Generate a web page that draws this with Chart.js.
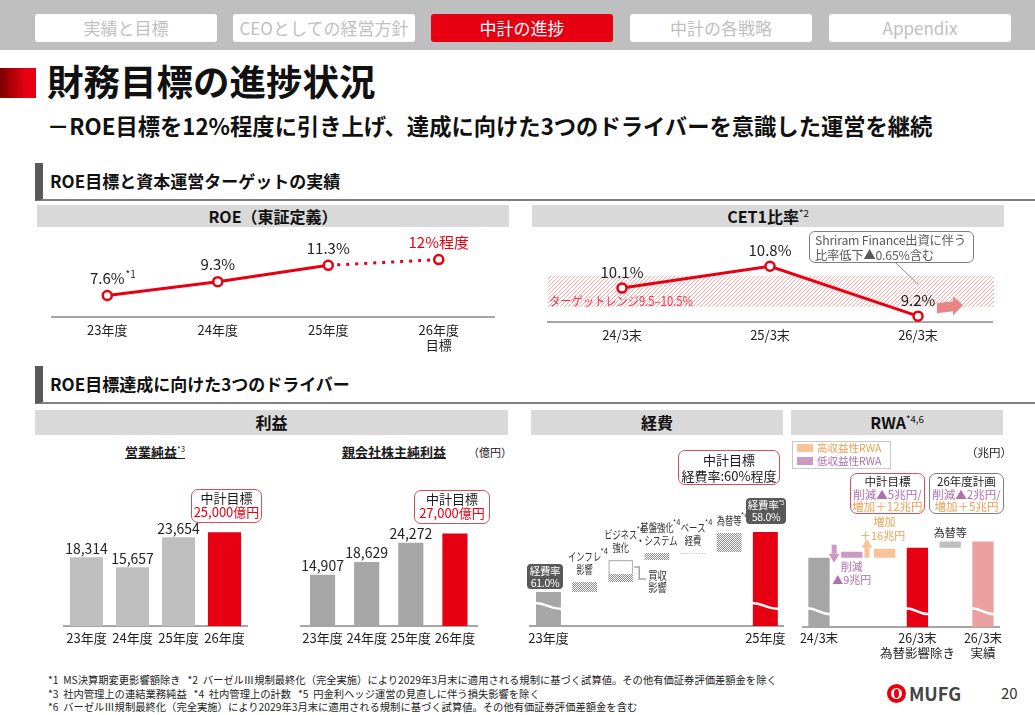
<!DOCTYPE html>
<html lang="ja">
<head>
<meta charset="utf-8">
<title>財務目標の進捗状況</title>
<script src="https://cdn.jsdelivr.net/npm/chart.js@4.4.1/dist/chart.umd.min.js"></script>
<style>
  body { margin: 0; }
  #page { position: relative; width: 1035px; height: 715px; overflow: hidden; background: #fff;
          font-family: "Noto Sans CJK JP", "Noto Sans", sans-serif; color: #1a1a1a; }
  #page > div, #page > canvas, #tabs > div { position: absolute; }
  #tabs { left: 0; top: 0; width: 1035px; height: 50px; background: #bfbfbf; }
  .tab { top: 14px; width: 182px; height: 28px; background: #fff; border-radius: 3px; color: #c0c0c0;
         font-size: 17px; line-height: 28px; text-align: center; }
  .tab.on { background: #e60012; color: #fff; }
  #mark { left: 0; top: 68px; width: 36px; height: 30px; background: linear-gradient(to right, #7a0000, #e60012 70%); }
  #title { left: 47px; top: 61px; font-size: 36.5px; line-height: 40px; font-weight: bold; color: #111; }
  #subtitle { left: 47px; top: 111px; font-size: 22.3px; line-height: 28px; font-weight: bold; color: #111; }
  .sec { left: 35px; width: 1000px; height: 38px; box-sizing: border-box; border-left: 8px solid #595959;
         border-bottom: 2px solid #808080; font-size: 17px; line-height: 36px; font-weight: bold; padding-left: 7px; color: #111; }
  .ph { background: #d9d9d9; font-weight: bold; font-size: 16px; text-align: center; color: #111; }
  sup { font-size: 60%; font-weight: normal; vertical-align: 0.6em; line-height: 0; }
  .sub { font-size: 13px; font-weight: bold; text-decoration: underline; line-height: 16px; white-space: nowrap; }
  .goal { box-sizing: border-box; border: 1.5px solid #d0505a; border-radius: 7px; background: #fff;
          font-size: 13px; line-height: 14px; text-align: center; padding-top: 1px; white-space: nowrap; }
  .red { color: #e60012; }
  .dark { background: #595959; color: #fff; border-radius: 4px; font-size: 10.5px; line-height: 12px; text-align: center;
          padding-top: 1px; box-sizing: border-box; white-space: nowrap; letter-spacing: -0.3px; }
  .note { box-sizing: border-box; border: 1px solid #7f7f7f; border-radius: 6px; background: #fff; color: #595959;
          font-size: 12.3px; line-height: 14.5px; padding: 1px 0 0 5px; white-space: nowrap; letter-spacing: -0.2px; }
  .rwabox { box-sizing: border-box; border: 1.5px solid #d0505a; border-radius: 7px; background: #fff;
            font-size: 11.5px; line-height: 12.6px; text-align: center; padding-top: 1px; white-space: nowrap; }
  .pur { color: #b06fb0; }
  .ora { color: #f0a050; }
  .foot { left: 48px; font-size: 10.3px; line-height: 13px; color: #222; white-space: nowrap; }
</style>
</head>
<body>
<div id="page">
  <div id="tabs">
    <div class="tab" style="left:35px">実績と目標</div>
    <div class="tab" style="left:233px">CEOとしての経営方針</div>
    <div class="tab on" style="left:431px">中計の進捗</div>
    <div class="tab" style="left:630px">中計の各戦略</div>
    <div class="tab" style="left:829px">Appendix</div>
  </div>
  <div id="mark"></div>
  <div id="title">財務目標の進捗状況</div>
  <div id="subtitle">－ROE目標を12%程度に引き上げ、達成に向けた3つのドライバーを意識した運営を継続</div>

  <div class="sec" style="top:163px">ROE目標と資本運営ターゲットの実績</div>
  <div class="ph" style="left:37px;top:205px;width:472px;height:22px;line-height:22px">ROE（東証定義）</div>
  <div class="ph" style="left:532px;top:205px;width:472px;height:22px;line-height:22px">CET1比率<sup>*2</sup></div>
  <canvas id="chartRoe" width="470" height="135" style="left:40px;top:228px"></canvas>
  <canvas id="chartCet1" width="470" height="135" style="left:535px;top:228px"></canvas>
  <div class="note" style="left:809px;top:231px;width:165px;height:32px">Shriram Finance出資に伴う<br>比率低下▲0.65%含む</div>

  <div class="sec" style="top:366px">ROE目標達成に向けた3つのドライバー</div>
  <div class="ph" style="left:35px;top:410px;width:473px;height:25px;line-height:25px">利益</div>
  <div class="ph" style="left:531px;top:410px;width:252px;height:25px;line-height:25px">経費</div>
  <div class="ph" style="left:791px;top:410px;width:212px;height:25px;line-height:25px">RWA<sup>*4,6</sup></div>

  <div class="sub" style="left:125px;top:444px">営業純益<sup>*3</sup></div>
  <div class="sub" style="left:342px;top:444px">親会社株主純利益</div>
  <div style="left:468px;top:445px;font-size:11px;line-height:14px">（億円）</div>
  <canvas id="chartOp" width="220" height="200" style="left:45px;top:455px"></canvas>
  <canvas id="chartNet" width="210" height="200" style="left:285px;top:455px"></canvas>
  <div class="goal" style="left:191px;top:489px;width:71px;height:34px">中計目標<br><span class="red" id="goalOp"></span></div>
  <div class="goal" style="left:414px;top:490px;width:76px;height:34px">中計目標<br><span class="red" id="goalNet"></span></div>

  <canvas id="chartExp" width="270" height="200" style="left:520px;top:455px"></canvas>
  <div class="goal" style="left:678px;top:450px;width:102px;height:35px;line-height:15.5px">中計目標<br>経費率:60%程度</div>
  <div class="dark" id="ratioStart" style="left:527px;top:564px;width:36px;height:25px"></div>
  <div class="dark" id="ratioEnd" style="left:746px;top:498px;width:40px;height:26px"></div>

  <div style="left:792px;top:441px;width:99px;height:28px;box-sizing:border-box;border:1px solid #c8c8c8;font-size:10.5px;line-height:12px">
    <span style="position:absolute;left:4px;top:2px;width:16px;height:8px;background:#f8c497"></span>
    <span class="ora" style="position:absolute;left:24px;top:0px">高収益性RWA</span>
    <span style="position:absolute;left:4px;top:15px;width:16px;height:8px;background:#cc99c4"></span>
    <span class="pur" style="position:absolute;left:24px;top:13px">低収益性RWA</span>
  </div>
  <div style="left:966px;top:445px;font-size:11.5px;line-height:14px">（兆円）</div>
  <div class="rwabox" style="left:850px;top:473px;width:75px;height:41px">中計目標<br><span class="pur">削減▲5兆円/</span><br><span class="ora">増加＋12兆円</span></div>
  <div class="rwabox" style="left:929px;top:473px;width:75px;height:41px;border-color:#7f7f7f">26年度計画<br><span class="pur">削減▲2兆円/</span><br><span class="ora">増加＋5兆円</span></div>
  <canvas id="chartRwa" width="225" height="215" style="left:790px;top:455px"></canvas>

  <div class="foot" style="top:673px">*1&nbsp; MS決算期変更影響額除き&nbsp;&nbsp; *2&nbsp; バーゼルⅢ規制最終化（完全実施）により2029年3月末に適用される規制に基づく試算値。その他有価証券評価差額金を除く</div>
  <div class="foot" style="top:687px">*3&nbsp; 社内管理上の連結業務純益&nbsp;&nbsp; *4&nbsp; 社内管理上の計数&nbsp;&nbsp; *5&nbsp; 円金利ヘッジ運営の見直しに伴う損失影響を除く</div>
  <div class="foot" style="top:700px">*6&nbsp; バーゼルⅢ規制最終化（完全実施）により2029年3月末に適用される規制に基づく試算値。その他有価証券評価差額金を含む</div>

  <div style="left:887px;top:684px;width:19px;height:19px;box-sizing:border-box;border:4px solid #e60012;border-radius:50%"></div>
  <div style="left:894px;top:689px;width:5px;height:9px;background:#e60012;border-radius:50%"></div>
  <div style="left:909px;top:681px;font-size:18px;line-height:24px;font-weight:bold;color:#444">MUFG</div>
  <div style="left:1001px;top:682px;font-size:15px;line-height:22px;color:#333">20</div>
</div>

<script>
// ROE (TSE definition)
const roeYears = ['23年度', '24年度', '25年度', ['26年度', '目標']];
const roeValues = [7.6, 9.3, 11.3, 12];
const roeTexts = ['7.6%', '9.3%', '11.3%', '12%程度'];
const roeNotes = ['*1', '', '', ''];

// CET1 ratio
const cetDates = ['24/3末', '25/3末', '26/3末'];
const cetValues = [10.1, 10.8, 9.2];
const cetTarget = [9.5, 10.5];

// profit (億円)
const profitYears = ['23年度', '24年度', '25年度', '26年度'];
const opProfit = [18314, 15657, 23654, 25000];
const netIncome = [14907, 18629, 24272, 27000];
const isTarget = [false, false, false, true];

// expense walk (schematic units, axis is broken)
const expenseTicks = ['23年度', '', '', '', '', '', '25年度'];
const expenseSteps = [null, ['インフレ', '影響'], ['ビジネス', '強化'], ['基盤強化', '・システム'], ['ベース', '経費'], ['為替等'], null];
const expenseBars = [[0, 34], [34, 44], [44, 52], [66, 73], [73, 73], [74, 93], [0, 94]];
const expenseAcq = [null, null, [52, 66], null, null, null, null];
const expenseRatio = [61.0, 58.0];

// RWA walk (schematic units, axis is broken)
const rwaTicks = ['24/3末', '', '', ['26/3末', '為替影響除き'], '', ['26/3末', '実績']];
const rwaBars = [[0, 69], [69, 75], [69, 78], [0, 79], [79, 85], [0, 85]];
const rwaChange = [-9, 16];

const FONT = '"Noto Sans CJK JP", "Noto Sans", sans-serif';
const RED = '#e60012';
Chart.defaults.font.family = FONT;
Chart.defaults.color = '#222';
Chart.defaults.animation = false;
Chart.defaults.plugins.legend.display = false;
Chart.defaults.plugins.tooltip.enabled = false;

document.getElementById('goalOp').textContent = opProfit[3].toLocaleString('en-US') + '億円';
document.getElementById('goalNet').textContent = netIncome[3].toLocaleString('en-US') + '億円';
document.getElementById('ratioStart').innerHTML = '経費率<br>' + expenseRatio[0].toFixed(1) + '%';
document.getElementById('ratioEnd').innerHTML = '経費率<sup>*5</sup><br>' + expenseRatio[1].toFixed(1) + '%';

function hatch(color, size) {
    const c = document.createElement('canvas');
    c.width = size; c.height = size;
    const g = c.getContext('2d');
    g.strokeStyle = color;
    g.lineWidth = 1;
    g.beginPath();
    g.moveTo(0, size); g.lineTo(size, 0);
    g.moveTo(-1, 1); g.lineTo(1, -1);
    g.moveTo(size - 1, size + 1); g.lineTo(size + 1, size - 1);
    g.stroke();
    return g.createPattern(c, 'repeat');
}

function dots() {
    const c = document.createElement('canvas');
    c.width = 2; c.height = 2;
    const g = c.getContext('2d');
    g.fillStyle = '#fff'; g.fillRect(0, 0, 2, 2);
    g.fillStyle = '#8c8c8c'; g.fillRect(0, 0, 1, 1); g.fillRect(1, 1, 1, 1);
    return g.createPattern(c, 'repeat');
}

// condensed text, like the narrow UI font of the slide
function narrow(c, t, x, y, size, sx) {
    c.save();
    c.translate(x, y);
    c.scale(sx, 1);
    c.font = size + 'px ' + FONT;
    c.fillText(t, 0, 0);
    const w = c.measureText(t).width * sx;
    c.restore();
    return w;
}

function xAxis(size, pad) {
    return {
        offset: true,
        grid: { display: false, drawTicks: false },
        border: { color: '#a6a6a6', width: 2 },
        ticks: { padding: pad, font: { size: size }, color: '#222', autoSkip: false, maxRotation: 0 }
    };
}

function pointLabels(texts, notes, colors, gap) {
    return {
        id: 'pointLabels',
        afterDatasetsDraw(chart) {
            const c = chart.ctx;
            c.save();
            c.textBaseline = 'middle';
            c.textAlign = 'left';
            chart.getDatasetMeta(0).data.forEach((p, i) => {
                c.font = '15px ' + FONT;
                c.fillStyle = colors[i];
                const w = c.measureText(texts[i]).width;
                c.fillText(texts[i], p.x - w / 2, p.y - gap);
                if (notes[i]) {
                    c.font = '10px ' + FONT;
                    c.fillText(notes[i], p.x + w / 2 + 1, p.y - gap - 4);
                }
            });
            c.restore();
        }
    };
}

function barLabels(texts) {
    return {
        id: 'barLabels',
        afterDatasetsDraw(chart) {
            const c = chart.ctx;
            c.save();
            c.font = '14px ' + FONT;
            c.fillStyle = '#222';
            c.textAlign = 'center';
            c.textBaseline = 'middle';
            chart.getDatasetMeta(0).data.forEach((b, i) => {
                if (texts[i]) c.fillText(texts[i], b.x, b.y - 9);
            });
            c.restore();
        }
    };
}

function breakMarks(bars, lift) {
    return {
        id: 'breakMarks',
        afterDatasetsDraw(chart) {
            const c = chart.ctx;
            const meta = chart.getDatasetMeta(0).data;
            c.save();
            c.strokeStyle = '#fff';
            c.lineWidth = 2.5;
            bars.forEach(i => {
                const b = meta[i];
                const l = b.x - b.width / 2 - 1, r = b.x + b.width / 2 + 1;
                const y0 = b.base - lift;
                c.beginPath();
                c.moveTo(l, y0 - 3);
                c.bezierCurveTo(l + (r - l) * 0.45, y0 - 3, l + (r - l) * 0.5, y0 + 3, r, y0 + 3);
                c.stroke();
            });
            c.restore();
        }
    };
}

function showRoe() {
    const ctx = document.getElementById('chartRoe').getContext('2d');
    new Chart(ctx, {
        type: 'line',
        data: {
            labels: roeYears,
            datasets: [
                {
                    data: roeValues,
                    borderColor: RED,
                    borderWidth: 3,
                    pointRadius: 4.5,
                    pointBorderWidth: 2.5,
                    pointBackgroundColor: '#fff',
                    pointBorderColor: RED,
                    segment: {
                        borderDash: c => isTarget[c.p1DataIndex] ? [3, 6] : undefined
                    }
                },
            ]
        },
        options: {
            responsive: false,
            layout: { padding: { left: 12, right: 16, top: 12, bottom: 5 } },
            scales: {
                x: xAxis(13, 5),
                y: { display: false, min: 5, max: 14.4 }
            }
        },
        plugins: [pointLabels(roeTexts, roeNotes, roeValues.map((v, i) => isTarget[i] ? RED : '#222'), 17)]
    });
}

function showCet1() {
    const ctx = document.getElementById('chartCet1').getContext('2d');
    const band = {
        id: 'band',
        beforeDatasetsDraw(chart) {
            const c = chart.ctx;
            const a = chart.chartArea;
            const y = chart.scales.y;
            const top = y.getPixelForValue(cetTarget[1]);
            const bottom = y.getPixelForValue(cetTarget[0]);
            c.save();
            c.fillStyle = hatch('#f2aaaa', 4);
            c.fillRect(a.left, top, a.right - a.left + 2, bottom - top);
            c.fillStyle = '#f0344c';
            c.textBaseline = 'middle';
            narrow(c, 'ターゲットレンジ' + cetTarget[0] + '–' + cetTarget[1] + '%', a.left + 1, bottom - 6, 12.5, 0.9);
            c.restore();
        },
        afterDatasetsDraw(chart) {
            const c = chart.ctx;
            const p = chart.getDatasetMeta(0).data[2];
            c.save();
            // leader line of the note box
            c.strokeStyle = '#8c8c8c';
            c.lineWidth = 1;
            c.beginPath();
            c.moveTo(p.x - 23, p.y - 54);
            c.lineTo(p.x, p.y - 32);
            c.stroke();
            // arrow after the last point
            c.fillStyle = '#e98484';
            c.beginPath();
            c.moveTo(p.x + 19, p.y - 13);
            c.lineTo(p.x + 35, p.y - 15);
            c.lineTo(p.x + 35, p.y - 20);
            c.lineTo(p.x + 45, p.y - 11);
            c.lineTo(p.x + 35, p.y - 1);
            c.lineTo(p.x + 35, p.y - 5);
            c.lineTo(p.x + 19, p.y - 3);
            c.closePath();
            c.fill();
            c.restore();
        }
    };
    new Chart(ctx, {
        type: 'line',
        data: {
            labels: cetDates,
            datasets: [
                {
                    data: cetValues,
                    borderColor: RED,
                    borderWidth: 3,
                    pointRadius: 4.5,
                    pointBorderWidth: 2.5,
                    pointBackgroundColor: '#fff',
                    pointBorderColor: RED,
                },
            ]
        },
        options: {
            responsive: false,
            layout: { padding: { left: 13, right: 13, top: 12, bottom: 15 } },
            scales: {
                x: xAxis(13, 5),
                y: { display: false, min: 9.0, max: 11.64 }
            }
        },
        plugins: [band, pointLabels(cetValues.map(v => v.toFixed(1) + '%'), ['', '', ''], ['#222', '#222', '#222'], 16)]
    });
}

function showProfit(id, values, gray, barPct, max, pad) {
    const ctx = document.getElementById(id).getContext('2d');
    new Chart(ctx, {
        type: 'bar',
        data: {
            labels: profitYears,
            datasets: [
                {
                    data: values,
                    backgroundColor: values.map((v, i) => isTarget[i] ? RED : gray),
                    categoryPercentage: 1,
                    barPercentage: barPct,
                },
            ]
        },
        options: {
            responsive: false,
            layout: { padding: pad },
            scales: {
                x: xAxis(13, 4),
                y: { display: false, min: 0, max: max }
            }
        },
        plugins: [barLabels(values.map((v, i) => isTarget[i] ? '' : v.toLocaleString('en-US')))]
    });
}

function showExpense() {
    const ctx = document.getElementById('chartExp').getContext('2d');
    const dot = dots();
    const steps = {
        id: 'steps',
        afterDatasetsDraw(chart) {
            const c = chart.ctx;
            const main = chart.getDatasetMeta(0).data;
            const acq = chart.getDatasetMeta(1).data;
            c.save();
            // zero-height step drawn as a dotted line
            c.strokeStyle = '#b0b0b0';
            c.lineWidth = 1;
            c.setLineDash([1, 2]);
            expenseBars.forEach((v, i) => {
                if (v[0] === v[1]) {
                    c.beginPath();
                    c.moveTo(main[i].x - main[i].width / 2, main[i].y + 0.5);
                    c.lineTo(main[i].x + main[i].width / 2, main[i].y + 0.5);
                    c.stroke();
                }
            });
            c.setLineDash([]);
            // acquisition bracket
            const k = expenseAcq.findIndex(v => v);
            const b = acq[k];
            const bx = b.x + b.width / 2 + 1, my = (b.y + b.base) / 2;
            c.strokeStyle = '#a6a6a6';
            c.lineWidth = 1.5;
            c.beginPath();
            c.moveTo(bx, my);
            c.lineTo(bx + 5, my);
            c.lineTo(bx + 5, my + 12);
            c.lineTo(bx + 12, my + 12);
            c.stroke();
            c.fillStyle = '#333';
            c.textBaseline = 'middle';
            narrow(c, '買収', bx + 14, my + 9, 11, 0.85);
            narrow(c, '影響', bx + 14, my + 21, 11, 0.85);
            // step names
            c.textAlign = 'center';
            expenseSteps.forEach((lines, i) => {
                if (!lines) return;
                let top = main[i].y;
                if (expenseAcq[i]) top = Math.min(top, acq[i].y);
                lines.forEach((t, n) => {
                    const y = top - 12 - (lines.length - 1 - n) * 13;
                    const w = narrow(c, t, main[i].x, y, 11.5, 0.72);
                    if (n === 0) {
                        c.font = '7.5px ' + FONT;
                        c.fillText('*4', main[i].x + w / 2 + 3, y - 6);
                    }
                });
            });
            c.restore();
        }
    };
    new Chart(ctx, {
        type: 'bar',
        data: {
            labels: expenseTicks,
            datasets: [
                {
                    data: expenseBars,
                    backgroundColor: expenseBars.map((v, i) => i === 0 ? '#a6a6a6' : i === expenseBars.length - 1 ? RED : v[0] === v[1] ? 'rgba(0,0,0,0)' : dot),
                    categoryPercentage: 1,
                    barPercentage: 0.69,
                    grouped: false,
                },
                {
                    data: expenseAcq,
                    backgroundColor: '#fff',
                    borderColor: '#b4b4b4',
                    borderWidth: 1.5,
                    categoryPercentage: 1,
                    barPercentage: 0.69,
                    grouped: false,
                },
            ]
        },
        options: {
            responsive: false,
            layout: { padding: { left: 10.4, right: 6.2, top: 6, bottom: 5.4 } },
            scales: {
                x: xAxis(13, 4),
                y: { display: false, min: 0, max: 165 }
            }
        },
        plugins: [steps, breakMarks([0, 6], 20)]
    });
}

function showRwa() {
    const ctx = document.getElementById('chartRwa').getContext('2d');
    const colors = ['#a6a6a6', '#cc99c4', '#f8c497', RED, '#bfbfbf', '#eba0a0'];
    const arrows = {
        id: 'arrows',
        afterDatasetsDraw(chart) {
            const c = chart.ctx;
            const d = chart.getDatasetMeta(0).data;
            const arrow = (x, from, to, color) => {
                const dir = to > from ? 1 : -1;
                const head = to - dir * 9;
                c.fillStyle = color;
                c.fillRect(x - 2.5, Math.min(from, head), 5, Math.abs(head - from));
                c.beginPath();
                c.moveTo(x - 5.5, head);
                c.lineTo(x + 5.5, head);
                c.lineTo(x, to);
                c.closePath();
                c.fill();
            };
            const cut = d[1], add = d[2];
            arrow(cut.x - cut.width / 2 - 7, cut.y - 7, cut.base + 5, colors[1]);
            arrow(add.x - add.width / 2 - 7, add.base, add.y - 10, colors[2]);
            c.save();
            c.textAlign = 'center';
            c.textBaseline = 'middle';
            c.font = '11px ' + FONT;
            c.fillStyle = '#b06fb0';
            c.fillText('削減', cut.x, cut.base + 9);
            c.fillText('▲' + Math.abs(rwaChange[0]) + '兆円', cut.x, cut.base + 22);
            c.fillStyle = '#f0a050';
            c.fillText('増加', add.x, add.y - 27);
            c.fillText('＋' + rwaChange[1] + '兆円', add.x - 2, add.y - 13);
            c.fillStyle = '#333';
            c.fillText('為替等', d[4].x, d[4].y - 9);
            c.restore();
        }
    };
    new Chart(ctx, {
        type: 'bar',
        data: {
            labels: rwaTicks,
            datasets: [
                {
                    data: rwaBars,
                    backgroundColor: colors,
                    categoryPercentage: 1,
                    barPercentage: 0.65,
                },
            ]
        },
        options: {
            responsive: false,
            layout: { padding: { left: 12.6, right: 15.6, top: 6, bottom: 4.8 } },
            scales: {
                x: xAxis(12.5, 4),
                y: { display: false, min: 0, max: 165 }
            }
        },
        plugins: [arrows, breakMarks([0, 3, 5], 16)]
    });
}

showRoe();
showCet1();
showProfit('chartOp', opProfit, '#bfbfbf', 0.72, 44000, { left: 18.5, right: 17.5, top: 6, bottom: 5.4 });
showProfit('chartNet', netIncome, '#a6a6a6', 0.57, 48100, { left: 15.5, right: 18, top: 6, bottom: 5.4 });
showExpense();
showRwa();
</script>
</body>
</html>
